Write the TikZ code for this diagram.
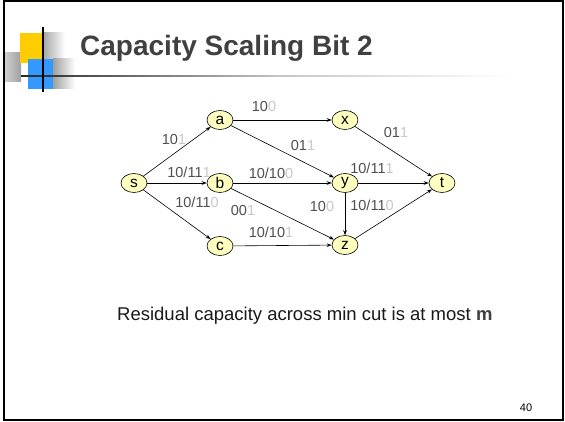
\documentclass[tikz,border=0pt]{standalone}
\usepackage{fontspec}
\setmainfont{Liberation Sans}
\usetikzlibrary{shapes.geometric,arrows.meta}
\definecolor{nodefill}{RGB}{255,255,192}
\definecolor{labdark}{RGB}{80,80,80}
\definecolor{lablight}{RGB}{200,200,200}
\definecolor{titlegray}{RGB}{64,64,64}
\definecolor{logoyellow}{RGB}{255,204,0}
\definecolor{logoblue}{RGB}{51,153,255}
\newcommand{\lab}[2]{\textcolor{labdark}{#1}\textcolor{lablight}{#2}}
\tikzset{
  vtx/.style={ellipse, draw=black, line width=0.6pt, fill=nodefill, minimum width=26pt, minimum height=19pt, inner sep=0pt, font=\fontsize{15.5}{15.5}\selectfont},
  edge/.style={-{Stealth[length=5pt,width=3.6pt]}, line width=0.6pt, black},
  elab/.style={font=\fontsize{14.5}{14.5}\selectfont, inner sep=0pt}
}
\begin{document}
\begin{tikzpicture}[x=1pt,y=-1pt]
\useasboundingbox (0,0) rectangle (565,422);
\fill[white] (0,0) rectangle (565,422);
% logo
\shade[left color=gray!35, right color=gray!75] (4,53) rectangle (21,82);
\shade[left color=gray!70, right color=white] (43,33) rectangle (65,59);
\shade[left color=gray!75, right color=white] (53,59) rectangle (75,89);
\fill[logoyellow] (20,33) rectangle (43,63);
\fill[logoblue] (28,59) rectangle (53,89);
\shade[left color=black!85, right color=gray!45] (21,75.3) rectangle (280,76.7);
\shade[left color=gray!45, right color=white] (280,75.3) rectangle (510,76.7);
\draw[black, line width=1.5pt] (43,27) -- (43,92);
% title
\node[anchor=base west, inner sep=0pt, text=titlegray, font=\fontsize{28}{28}\selectfont\bfseries] (title) at (80,56) {Capacity Scaling Bit 2};
% graph
\node[vtx] (s) at (134,183) {s};
\node[vtx] (a) at (220,120) {a};
\node[vtx] (b) at (220,183) {b};
\node[vtx] (c) at (220,246) {c};
\node[vtx] (x) at (345,120) {x};
\node[vtx] (y) at (345,183) {y};
\node[vtx] (z) at (345,245) {z};
\node[vtx] (t) at (442,183) {t};
\draw[edge] (s) -- (a);
\draw[edge] (s) -- (b);
\draw[edge] (s) -- (c);
\draw[edge] (a) -- (x);
\draw[edge] (a) -- (y);
\draw[edge] (b) -- (y);
\draw[edge] (b) -- (z);
\draw[edge] (c) -- (z);
\draw[edge] (x) -- (t);
\draw[edge] (y) -- (t);
\draw[edge] (y) -- (z);
\draw[edge] (z) -- (t);
% labels
\node[elab] (lsa) at (174,140) {\lab{10}{1}};
\node[elab] (lax) at (264,107) {\lab{10}{0}};
\node[elab] (lay) at (303,146) {\lab{01}{1}};
\node[elab] (lsb) at (189,172) {\lab{10/11}{1}};
\node[elab] (lby) at (271,173) {\lab{10/10}{0}};
\node[elab] (lsc) at (197,202) {\lab{10/11}{0}};
\node[elab] (lbz) at (243,211) {\lab{00}{1}};
\node[elab] (lcz) at (271,232) {\lab{10/10}{1}};
\node[elab] (lxt) at (396,133) {\lab{01}{1}};
\node[elab] (lyt) at (372,168) {\lab{10/11}{1}};
\node[elab] (lyz) at (322,207) {\lab{10}{0}};
\node[elab] (lzt) at (372,205) {\lab{10/11}{0}};
% bottom text
\node[anchor=base west, inner sep=0pt, text=black!90, font=\fontsize{18.5}{18.5}\selectfont] (note) at (117,320) {Residual capacity across min cut is at most \textcolor{titlegray}{\bfseries m}};
\node[inner sep=0pt, font=\fontsize{11}{11}\selectfont] (pg) at (526,408) {40};
% frame
\draw[black, line width=2pt] (4,1) rectangle (563,420);
\end{tikzpicture}
\end{document}
